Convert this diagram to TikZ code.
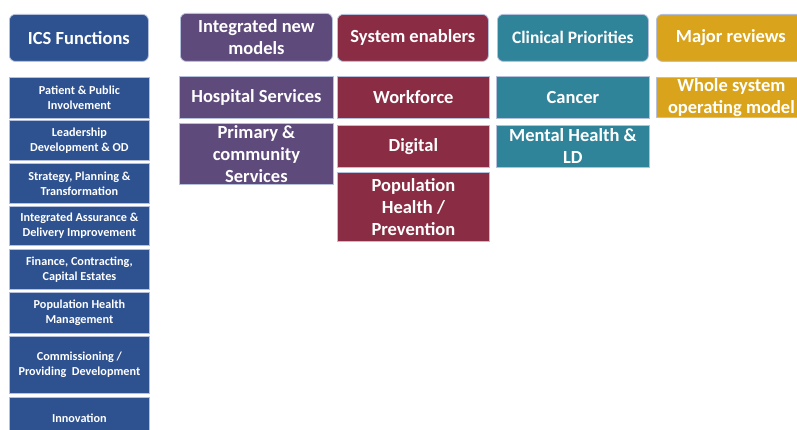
\documentclass[tikz,border=0pt]{standalone}
\usepackage{fontspec}
\setmainfont{Carlito}
\definecolor{icsblue}{HTML}{2E5190}
\definecolor{ipurple}{HTML}{5F4A7C}
\definecolor{imaroon}{HTML}{8A2C43}
\definecolor{iteal}{HTML}{30849A}
\definecolor{igold}{HTML}{D9A41B}
\definecolor{edgecol}{HTML}{B4C0DC}
\tikzset{
  cell/.style={anchor=north west, inner sep=0pt, draw=edgecol, line width=0.8pt,
    text=white, font=\bfseries\fontsize{18.5}{22}\selectfont, align=center},
  head/.style={cell, rounded corners=6pt},
  small/.style={cell, fill=icsblue, minimum width=140pt, font=\bfseries\fontsize{12.2}{15}\selectfont}
}
\begin{document}
\begin{tikzpicture}[x=1pt,y=-1pt]
\useasboundingbox (0,0) rectangle (797,430);
\fill[white] (0,0) rectangle (797,430);
\clip (0,0) rectangle (797,430);
% headers
\node[head, fill=icsblue, minimum width=139pt, minimum height=47pt] (ics) at (9,14) {ICS Functions};
\node[head, fill=ipurple, minimum width=152pt, minimum height=48pt] (inm) at (180,13) {Integrated new\\models};
\node[head, fill=imaroon, minimum width=151pt, minimum height=47pt] (se) at (337,14) {System enablers};
\node[head, fill=iteal, minimum width=151pt, minimum height=47pt, font=\bfseries\fontsize{17.5}{22}\selectfont] (cp) at (497,14) {Clinical Priorities};
\node[head, fill=igold, minimum width=149pt, minimum height=47pt] (mr) at (656,14) {Major reviews};
% ICS functions column
\node[small, minimum height=41pt] (f1) at (9,77) {Patient \& Public\\Involvement};
\node[small, minimum height=40pt] (f2) at (9,120) {Leadership\\Development \& OD};
\node[small, minimum height=40pt] (f3) at (9,163) {Strategy, Planning \&\\Transformation};
\node[small, minimum height=39pt] (f4) at (9,206) {Integrated Assurance \&\\Delivery Improvement};
\node[small, minimum height=40pt] (f5) at (9,249) {Finance, Contracting,\\Capital Estates};
\node[small, minimum height=41pt] (f6) at (9,292) {Population Health\\Management};
\node[small, minimum height=57pt] (f7) at (9,336) {Commissioning /\\Providing\ \ Development};
\node[small, minimum height=42pt] (f8) at (9,397) {Innovation};
% Integrated new models
\node[cell, fill=ipurple, minimum width=154pt, minimum height=42pt] (hs) at (179,76) {Hospital Services};
\node[cell, fill=ipurple, minimum width=154pt, minimum height=61pt] (pc) at (179,123) {Primary \&\\community\\Services};
% System enablers
\node[cell, fill=imaroon, minimum width=152pt, minimum height=42pt] (wf) at (337,76) {Workforce};
\node[cell, fill=imaroon, minimum width=152pt, minimum height=42pt] (dg) at (337,125) {Digital};
\node[cell, fill=imaroon, minimum width=152pt, minimum height=69pt] (ph) at (337,172) {Population\\Health /\\Prevention};
% Clinical priorities
\node[cell, fill=iteal, minimum width=153pt, minimum height=42pt] (ca) at (496,76) {Cancer};
\node[cell, fill=iteal, minimum width=153pt, minimum height=42pt] (mh) at (496,125) {Mental Health \&\\LD};
% Major reviews
\node[cell, fill=igold, minimum width=150pt, minimum height=40pt] (ws) at (656,77) {Whole system\\operating model};
\end{tikzpicture}
\end{document}
